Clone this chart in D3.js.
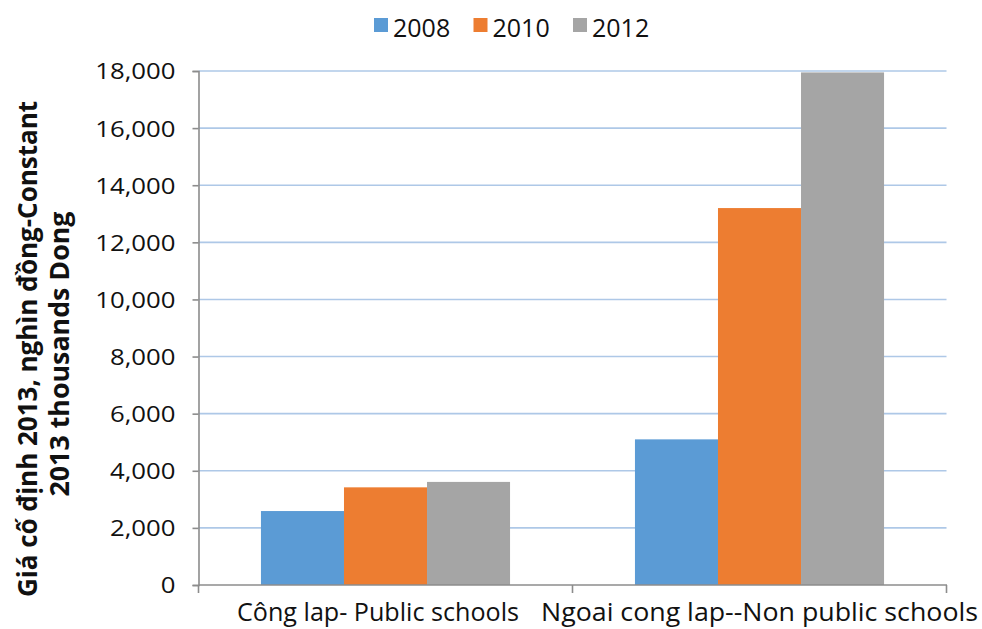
<!DOCTYPE html>
<html>
<head>
<meta charset="utf-8">
<script src="https://cdn.jsdelivr.net/npm/d3@7"></script>
<style>
  html, body { margin: 0; padding: 0; background: #fff; }
  svg { display: block; font-family: "Open Sans", "Noto Sans", sans-serif; }
</style>
</head>
<body>
<svg id="chart" width="982" height="629"></svg>
<script>
// Spending per student by school type, constant 2013 prices (thousand dong)
const categories = ["Công lap- Public schools", "Ngoai cong lap--Non  public schools"];
const years = ["2008", "2010", "2012"];
const values2008 = [2590, 5100];
const values2010 = [3420, 13200];
const values2012 = [3610, 17950];
const yTicks = [0, 2000, 4000, 6000, 8000, 10000, 12000, 14000, 16000, 18000];
const yTitleLines = ["Giá cố định 2013, nghìn đồng-Constant", "2013 thousands Dong"];

const seriesValues = [values2008, values2010, values2012];
const colors = ["#5b9bd5", "#ed7d31", "#a5a5a5"];

const svg = d3.select("#chart");
const plotLeft = 198.5, plotRight = 946.5, plotTop = 71, plotBottom = 585;

const x0 = d3.scaleBand().domain(categories).range([plotLeft, plotRight]).paddingInner(0).paddingOuter(0);
const inset = x0.bandwidth() * 0.167;
const x1 = d3.scaleBand().domain(years).range([inset, x0.bandwidth() - inset]).padding(0);
const y = d3.scaleLinear().domain([0, 18000]).range([plotBottom, plotTop]);

// Horizontal gridlines
svg.append("g")
  .selectAll("line")
  .data(yTicks.filter(d => d > 0))
  .join("line")
  .attr("x1", plotLeft).attr("x2", plotRight)
  .attr("y1", d => y(d)).attr("y2", d => y(d))
  .attr("stroke", "#aec8e7")
  .attr("stroke-width", 1.6);

// Bars
const rows = [];
categories.forEach((c, i) => years.forEach((yr, j) => rows.push({ c, yr, j, v: seriesValues[j][i] })));
svg.append("g")
  .selectAll("rect")
  .data(rows)
  .join("rect")
  .attr("x", d => x0(d.c) + x1(d.yr))
  .attr("width", x1.bandwidth())
  .attr("y", d => y(d.v))
  .attr("height", d => y(0) - y(d.v))
  .attr("fill", d => colors[d.j]);

// Y axis
const yAxis = svg.append("g")
  .attr("transform", `translate(${plotLeft},0)`)
  .call(d3.axisLeft(y).tickValues(yTicks).tickFormat(d3.format(",")).tickSize(6).tickPadding(17));
yAxis.select(".domain").attr("stroke", "#8c8c8c").attr("stroke-width", 1.6);
yAxis.selectAll(".tick line").attr("stroke", "#8c8c8c").attr("stroke-width", 1.6);
yAxis.selectAll(".tick text")
  .attr("font-family", "'Open Sans', sans-serif")
  .attr("font-size", 22)
  .attr("fill", "#111")
  .attr("dy", "0.36em")
  .each(function () {
    const w = this.getComputedTextLength();
    d3.select(this).attr("textLength", w * 1.17).attr("lengthAdjust", "spacingAndGlyphs");
  });

// X axis with tick marks at category boundaries
const xAxisG = svg.append("g");
xAxisG.append("line")
  .attr("x1", plotLeft).attr("x2", plotRight + 0.5)
  .attr("y1", plotBottom).attr("y2", plotBottom)
  .attr("stroke", "#8c8c8c").attr("stroke-width", 1.6);
const bounds = [plotLeft, ...categories.map(c => x0(c) + x0.bandwidth())];
xAxisG.selectAll("line.tk")
  .data(bounds)
  .join("line")
  .attr("class", "tk")
  .attr("x1", d => d).attr("x2", d => d)
  .attr("y1", plotBottom).attr("y2", plotBottom + 8)
  .attr("stroke", "#8c8c8c").attr("stroke-width", 1.6);

const xLabelSpans = [[237, 282], [541, 437]];
xAxisG.selectAll("text")
  .data(categories)
  .join("text")
  .attr("x", (d, i) => xLabelSpans[i][0])
  .attr("y", 621)
  .attr("font-size", 26)
  .attr("fill", "#111")
  .attr("textLength", (d, i) => xLabelSpans[i][1])
  .attr("lengthAdjust", "spacingAndGlyphs")
  .text(d => d);

// Y axis title (two rotated lines)
const titleSpec = [{ x: 37, cy: 349, len: 496 }, { x: 69, cy: 354, len: 285 }];
svg.append("g")
  .selectAll("text")
  .data(yTitleLines)
  .join("text")
  .attr("transform", (d, i) => `translate(${titleSpec[i].x},${titleSpec[i].cy}) rotate(-90)`)
  .attr("text-anchor", "middle")
  .attr("font-size", 26)
  .attr("font-weight", "bold")
  .attr("fill", "#111")
  .attr("textLength", (d, i) => titleSpec[i].len)
  .attr("lengthAdjust", "spacingAndGlyphs")
  .text(d => d);

// Legend
const legend = svg.append("g");
const legendX = d3.scalePoint().domain(years).range([374, 573]);
const item = legend.selectAll("g")
  .data(years)
  .join("g")
  .attr("transform", d => `translate(${legendX(d)},0)`);
item.append("rect")
  .attr("x", 0).attr("y", 18)
  .attr("width", 14).attr("height", 14)
  .attr("fill", (d, i) => colors[i]);
item.append("text")
  .attr("x", 19).attr("y", 37)
  .attr("font-size", 25)
  .attr("fill", "#111")
  .text(d => d);
</script>
</body>
</html>
